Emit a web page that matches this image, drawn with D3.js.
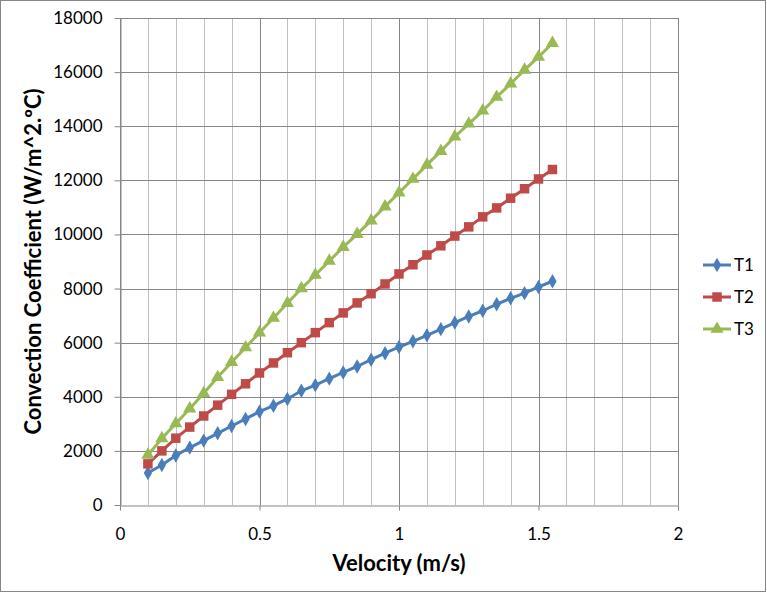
<!DOCTYPE html>
<html>
<head>
<meta charset="utf-8">
<script src="https://cdn.jsdelivr.net/npm/d3@7"></script>
<style>
  body { margin: 0; background: #fff; }
  svg { display: block; font-family: Lato, "Open Sans", sans-serif; }
</style>
</head>
<body>
<svg id="chart" width="767" height="593"></svg>
<script>
// velocity (m/s)
const VELOCITY = [0.1, 0.15, 0.2, 0.25, 0.3, 0.35, 0.4, 0.45, 0.5, 0.55, 0.6, 0.65, 0.7, 0.75, 0.8,
  0.85, 0.9, 0.95, 1.0, 1.05, 1.1, 1.15, 1.2, 1.25, 1.3, 1.35, 1.4, 1.45, 1.5, 1.55];

// convection coefficient
const T1 = [1180, 1480, 1830, 2120, 2380, 2650, 2920, 3180, 3450, 3670, 3920, 4220, 4430, 4670, 4900,
  5120, 5370, 5610, 5840, 6050, 6270, 6500, 6740, 6970, 7180, 7420, 7640, 7830, 8060, 8270];
const T2 = [1520, 2000, 2470, 2880, 3290, 3690, 4090, 4480, 4880, 5250, 5630, 6000, 6370, 6740, 7100,
  7470, 7810, 8170, 8540, 8880, 9240, 9580, 9940, 10280, 10650, 10980, 11340, 11690, 12050, 12400];
const T3 = [1850, 2460, 3010, 3560, 4130, 4720, 5280, 5820, 6370, 6910, 7460, 8000, 8500, 9020, 9530,
  10010, 10510, 11030, 11540, 12050, 12570, 13080, 13610, 14090, 14570, 15080, 15570, 16080, 16560, 17070];

const SERIES_NAMES = ["T1", "T2", "T3"];
const COLORS = ["#4A7EBB", "#BE4B48", "#98B954"];
const X_TICKS = [0, 0.5, 1, 1.5, 2];
const X_MINOR = d3.range(0, 2.0001, 0.1);
const Y_TICKS = [0, 2000, 4000, 6000, 8000, 10000, 12000, 14000, 16000, 18000];

let svg = d3.select("#chart");

// outer frame
svg.append("rect")
  .attr("x", 0.5).attr("y", 0.5)
  .attr("width", 765).attr("height", 591)
  .attr("fill", "#fff").attr("stroke", "#868686");

const plotLeft = 120, plotRight = 678, plotTop = 18, plotBottom = 505;

let x = d3.scaleLinear().domain([0, 2]).range([plotLeft, plotRight]);
let y = d3.scaleLinear().domain([0, 18000]).range([plotBottom, plotTop]);

let grid = svg.append("g");

// vertical grid, darker on the labelled values
grid.selectAll(".vgrid")
  .data(X_MINOR)
  .enter()
  .append("line")
  .attr("x1", d => Math.round(x(d)) + 0.5).attr("x2", d => Math.round(x(d)) + 0.5)
  .attr("y1", plotTop).attr("y2", plotBottom)
  .attr("stroke", d => Math.abs(d * 2 - Math.round(d * 2)) < 1e-6 ? "#868686" : "#BFBFBF")
  .attr("stroke-width", 1);

// horizontal grid
grid.selectAll(".hgrid")
  .data(Y_TICKS.slice(1))
  .enter()
  .append("line")
  .attr("x1", plotLeft).attr("x2", plotRight)
  .attr("y1", d => Math.round(y(d)) + 0.5).attr("y2", d => Math.round(y(d)) + 0.5)
  .attr("stroke", "#868686");

// y axis
let yAxis = svg.append("g")
  .attr("transform", `translate(${plotLeft + 0.5},0)`)
  .call(d3.axisLeft(y).tickValues(Y_TICKS).tickSize(6).tickSizeOuter(0).tickPadding(12)
    .tickFormat(d3.format("d")));
yAxis.selectAll("path, line").attr("stroke", "#868686");
yAxis.selectAll("text").attr("font-size", 17).attr("fill", "#000").attr("font-family", "Lato");

// x axis
let xAxis = svg.append("g")
  .attr("transform", `translate(0,${plotBottom + 0.5})`)
  .call(d3.axisBottom(x).tickValues(X_TICKS).tickSize(5).tickSizeOuter(0).tickPadding(17)
    .tickFormat(d3.format("")));
xAxis.selectAll("path, line").attr("stroke", "#868686");
xAxis.selectAll("text").attr("font-size", 17).attr("fill", "#000").attr("font-family", "Lato");

// titles
svg.append("text")
  .attr("x", x(1)).attr("y", 571)
  .attr("text-anchor", "middle")
  .attr("font-weight", "bold").attr("font-size", 22)
  .text("Velocity (m/s)");

svg.append("text")
  .attr("transform", `translate(41,${(plotTop + plotBottom) / 2}) rotate(-90)`)
  .attr("text-anchor", "middle")
  .attr("font-weight", "bold").attr("font-size", 22)
  .text("Convection Coefficient (W/m^2.ºC)");

// series
const series = [T1, T2, T3].map((vals, i) => ({
  name: SERIES_NAMES[i],
  color: COLORS[i],
  points: vals.map((v, j) => ({ x: VELOCITY[j], y: v }))
}));

const symbols = [d3.symbolDiamond, d3.symbolSquare, d3.symbolTriangle];
const symbolSizes = [60, 90, 75];

let line = d3.line().x(d => x(d.x)).y(d => y(d.y));

let sg = svg.selectAll(".series")
  .data(series)
  .enter()
  .append("g")
  .attr("class", "series");

sg.append("path")
  .attr("d", d => line(d.points))
  .attr("fill", "none")
  .attr("stroke", d => d.color)
  .attr("stroke-width", 3)
  .attr("stroke-linejoin", "round");

sg.each(function(d, i) {
  d3.select(this).selectAll(".pt")
    .data(d.points)
    .enter()
    .append("path")
    .attr("transform", p => `translate(${x(p.x)},${y(p.y)})`)
    .attr("d", d3.symbol().type(symbols[i]).size(symbolSizes[i]))
    .attr("fill", d.color);
});

// legend
let legend = svg.selectAll(".legend")
  .data(series)
  .enter()
  .append("g")
  .attr("transform", (d, i) => `translate(703,${265 + i * 32})`);

legend.append("line")
  .attr("x1", 0).attr("x2", 28)
  .attr("stroke", d => d.color).attr("stroke-width", 3);

legend.append("path")
  .attr("transform", "translate(14,0)")
  .attr("d", (d, i) => d3.symbol().type(symbols[i]).size(symbolSizes[i])())
  .attr("fill", d => d.color);

legend.append("text")
  .attr("x", 31).attr("y", 6)
  .attr("font-size", 17)
  .text(d => d.name);
</script>
</body>
</html>
